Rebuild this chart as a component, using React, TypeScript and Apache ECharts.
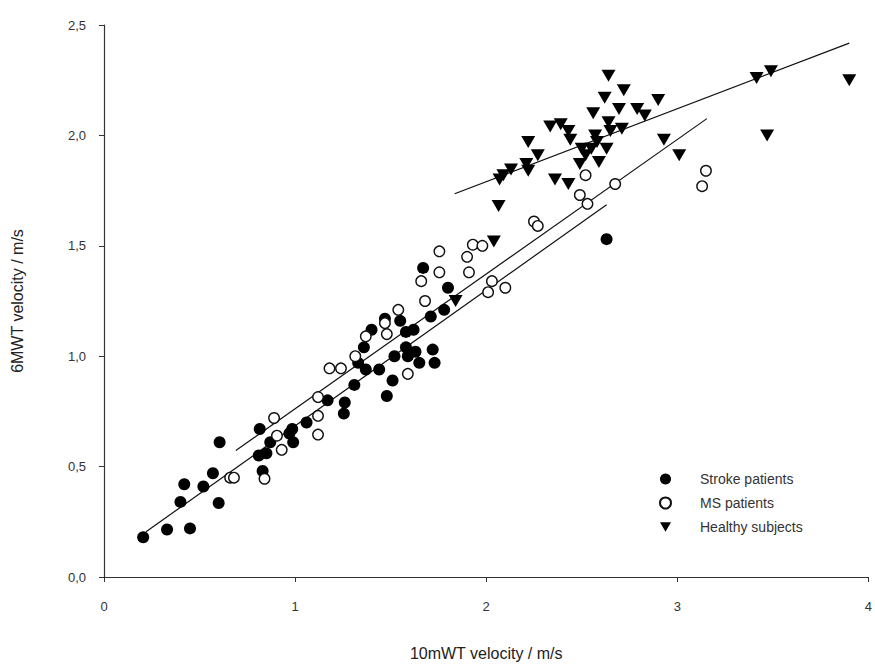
import React, { useEffect, useRef } from "react";
import * as echarts from "echarts";

const strokePatients: [number, number][] = [
  [0.205, 0.18], [0.33, 0.215], [0.45, 0.22], [0.4, 0.34], [0.42, 0.42], [0.52, 0.41],
  [0.57, 0.47], [0.6, 0.335], [0.605, 0.61], [0.815, 0.67], [0.83, 0.48], [0.81, 0.55],
  [0.85, 0.56], [0.87, 0.61], [0.97, 0.65], [0.985, 0.67], [0.99, 0.61], [1.06, 0.7],
  [1.17, 0.8], [1.255, 0.74], [1.26, 0.79], [1.31, 0.87], [1.33, 0.97], [1.37, 0.94],
  [1.36, 1.04], [1.4, 1.12], [1.47, 1.17], [1.55, 1.16], [1.44, 0.94], [1.52, 1.0],
  [1.51, 0.89], [1.48, 0.82], [1.58, 1.11], [1.62, 1.12], [1.58, 1.04], [1.59, 1.0],
  [1.63, 1.02], [1.65, 0.97], [1.72, 1.03], [1.73, 0.97], [1.71, 1.18], [1.78, 1.21],
  [1.8, 1.31], [1.67, 1.4], [2.63, 1.53],
];

const msPatients: [number, number][] = [
  [0.66, 0.45], [0.68, 0.45], [0.84, 0.445], [0.93, 0.576], [0.905, 0.64], [0.89, 0.72],
  [1.12, 0.645], [1.12, 0.73], [1.12, 0.815], [1.18, 0.945], [1.24, 0.945], [1.315, 1.0],
  [1.37, 1.09], [1.47, 1.15], [1.48, 1.1], [1.54, 1.21], [1.59, 0.92], [1.68, 1.25],
  [1.66, 1.34], [1.755, 1.38], [1.755, 1.475], [1.91, 1.38], [1.9, 1.45], [1.93, 1.505],
  [1.98, 1.5], [2.03, 1.34], [2.01, 1.29], [2.1, 1.31], [2.25, 1.61], [2.27, 1.59],
  [2.49, 1.73], [2.53, 1.69], [2.52, 1.82], [2.675, 1.78], [3.15, 1.84], [3.13, 1.77],
  [2.52, 1.94],
];

const healthySubjects: [number, number][] = [
  [2.64, 2.27], [2.72, 2.205], [2.62, 2.17], [2.9, 2.16], [2.56, 2.1], [2.695, 2.12],
  [2.79, 2.12], [2.83, 2.09], [2.64, 2.06], [2.71, 2.03], [2.65, 2.02], [2.335, 2.04],
  [2.39, 2.05], [2.43, 2.02], [2.44, 1.98], [2.57, 2.0], [2.58, 1.97], [2.5, 1.94],
  [2.55, 1.94], [2.63, 1.94], [2.52, 1.91], [2.59, 1.88], [2.49, 1.87], [2.22, 1.97],
  [2.27, 1.91], [2.21, 1.87], [2.22, 1.84], [2.13, 1.845], [2.09, 1.82], [2.07, 1.8],
  [2.36, 1.8], [2.43, 1.78], [2.065, 1.68], [2.04, 1.52], [1.84, 1.25], [2.93, 1.98],
  [3.01, 1.91], [3.415, 2.26], [3.49, 2.29], [3.47, 2.0], [3.9, 2.25],
];

const strokeFit: [number, number][] = [[0.22, 0.205], [2.63, 1.686]];
const msFit: [number, number][] = [[0.69, 0.573], [3.155, 2.076]];
const healthyFit: [number, number][] = [[1.835, 1.736], [3.9, 2.418]];

const FONT = "Liberation Sans, Arial, sans-serif";
const DOWN_TRIANGLE = "path://M0,0L14,0L7,12Z";

export default function App() {
  const ref = useRef<HTMLDivElement>(null);
  useEffect(() => {
    if (!ref.current) return;
    const chart = echarts.init(ref.current, undefined, { renderer: "svg" });
    const fitLine = (data: [number, number][]) => ({
      type: "line",
      data,
      symbol: "none",
      lineStyle: { color: "#111", width: 1.2 },
      silent: true,
      z: 1,
    });
    chart.setOption({
      animation: false,
      backgroundColor: "#fff",
      textStyle: { fontFamily: FONT },
      grid: { left: 104, right: 5, top: 25, bottom: 81 },
      xAxis: {
        type: "value",
        min: 0,
        max: 4,
        interval: 1,
        name: "10mWT velocity / m/s",
        nameLocation: "middle",
        nameGap: 68,
        nameTextStyle: { fontSize: 16, color: "#222", fontFamily: FONT },
        axisLine: { lineStyle: { color: "#333", width: 1.2 } },
        axisTick: { show: true, length: 5, lineStyle: { color: "#333" } },
        axisLabel: { fontSize: 13, color: "#333", margin: 23, fontFamily: FONT },
        splitLine: { show: false },
      },
      yAxis: {
        type: "value",
        min: 0,
        max: 2.5,
        interval: 0.5,
        name: "6MWT velocity / m/s",
        nameLocation: "middle",
        nameRotate: 90,
        nameGap: 79,
        nameTextStyle: { fontSize: 16, color: "#222", fontFamily: FONT },
        axisLine: { show: true, lineStyle: { color: "#333", width: 1.2 } },
        axisTick: { show: true, length: 5, lineStyle: { color: "#333" } },
        axisLabel: {
          fontSize: 13,
          color: "#333",
          margin: 18,
          fontFamily: FONT,
          formatter: (v: number) => v.toFixed(1).replace(".", ","),
        },
        splitLine: { show: false },
      },
      legend: {
        orient: "vertical",
        left: 654,
        top: 467,
        itemWidth: 11,
        itemHeight: 11,
        itemGap: 10,
        textStyle: { fontSize: 14, color: "#333", fontFamily: FONT, padding: [0, 0, 0, 24] },
        data: [
          { name: "Stroke patients" },
          { name: "MS patients" },
          { name: "Healthy subjects", icon: DOWN_TRIANGLE },
        ],
      },
      series: [
        fitLine(strokeFit),
        fitLine(msFit),
        fitLine(healthyFit),
        {
          name: "Stroke patients",
          type: "scatter",
          data: strokePatients,
          symbol: "circle",
          symbolSize: 12,
          itemStyle: { color: "#000", opacity: 1 },
          z: 3,
        },
        {
          name: "MS patients",
          type: "scatter",
          data: msPatients,
          symbol: "circle",
          symbolSize: 10.5,
          itemStyle: { color: "#fff", borderColor: "#111", borderWidth: 1.4, opacity: 1 },
          z: 4,
        },
        {
          name: "Healthy subjects",
          type: "scatter",
          data: healthySubjects,
          symbol: "triangle",
          symbolRotate: 180,
          symbolSize: [14, 12],
          itemStyle: { color: "#000", opacity: 1 },
          z: 5,
        },
      ],
    });
    return () => chart.dispose();
  }, []);
  return <div ref={ref} style={{ width: 875, height: 666, position: "absolute", left: 0, top: 0 }} />;
}
